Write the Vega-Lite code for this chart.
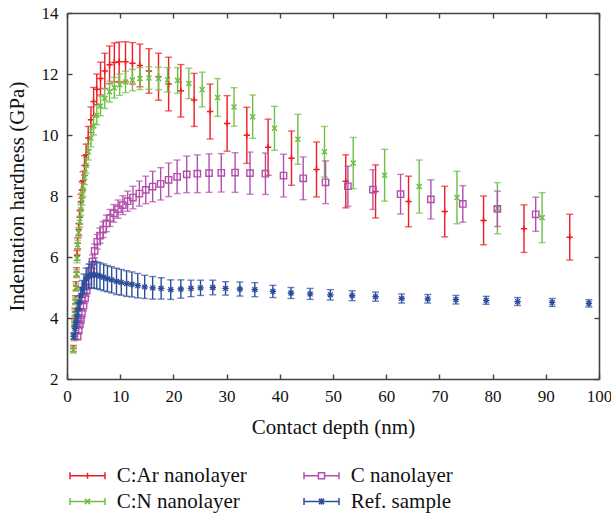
{
  "$schema": "https://vega.github.io/schema/vega-lite/v6.json",
  "autosize": {"type": "none"},
  "width": 532,
  "height": 366,
  "padding": {"left": 67, "top": 13, "right": 12, "bottom": 136},
  "background": "white",
  "config": {
    "view": {"stroke": null},
    "axis": {
      "grid": false,
      "domainColor": "#444444",
      "domainWidth": 1.6,
      "tickColor": "#444444",
      "tickWidth": 1.4,
      "tickSize": -5,
      "labelFlush": false,
      "labelFont": "Liberation Serif",
      "labelFontSize": 17,
      "labelColor": "#111111",
      "titleFont": "Liberation Serif",
      "titleFontSize": 21,
      "titleFontWeight": "normal",
      "titleColor": "#111111"
    }
  },
  "datasets": {
    "pts": [
      {"s": "C:Ar nanolayer", "d": 1.2, "h": 3.0, "e": 0.1},
      {"s": "C:Ar nanolayer", "d": 1.3, "h": 3.4, "e": 0.1},
      {"s": "C:Ar nanolayer", "d": 1.4, "h": 3.85, "e": 0.12},
      {"s": "C:Ar nanolayer", "d": 1.5, "h": 4.2, "e": 0.12},
      {"s": "C:Ar nanolayer", "d": 1.6, "h": 4.6, "e": 0.13},
      {"s": "C:Ar nanolayer", "d": 1.7, "h": 5.05, "e": 0.14},
      {"s": "C:Ar nanolayer", "d": 1.8, "h": 5.5, "e": 0.15},
      {"s": "C:Ar nanolayer", "d": 1.9, "h": 6.05, "e": 0.16},
      {"s": "C:Ar nanolayer", "d": 2.0, "h": 6.45, "e": 0.18},
      {"s": "C:Ar nanolayer", "d": 2.2, "h": 6.9, "e": 0.2},
      {"s": "C:Ar nanolayer", "d": 2.4, "h": 7.3, "e": 0.22},
      {"s": "C:Ar nanolayer", "d": 2.6, "h": 7.8, "e": 0.25},
      {"s": "C:Ar nanolayer", "d": 2.8, "h": 8.2, "e": 0.27},
      {"s": "C:Ar nanolayer", "d": 3.0, "h": 8.5, "e": 0.3},
      {"s": "C:Ar nanolayer", "d": 3.3, "h": 9.0, "e": 0.32},
      {"s": "C:Ar nanolayer", "d": 3.6, "h": 9.35, "e": 0.35},
      {"s": "C:Ar nanolayer", "d": 4.0, "h": 9.9, "e": 0.38},
      {"s": "C:Ar nanolayer", "d": 4.5, "h": 10.5, "e": 0.42},
      {"s": "C:Ar nanolayer", "d": 5.0, "h": 11.1, "e": 0.46},
      {"s": "C:Ar nanolayer", "d": 5.6, "h": 11.5, "e": 0.5},
      {"s": "C:Ar nanolayer", "d": 6.3, "h": 11.85, "e": 0.54},
      {"s": "C:Ar nanolayer", "d": 7.1, "h": 12.1, "e": 0.58},
      {"s": "C:Ar nanolayer", "d": 8.0, "h": 12.3, "e": 0.62},
      {"s": "C:Ar nanolayer", "d": 8.9, "h": 12.38, "e": 0.64},
      {"s": "C:Ar nanolayer", "d": 9.8, "h": 12.4, "e": 0.65},
      {"s": "C:Ar nanolayer", "d": 11.0, "h": 12.4, "e": 0.66},
      {"s": "C:Ar nanolayer", "d": 12.3, "h": 12.35, "e": 0.68},
      {"s": "C:Ar nanolayer", "d": 13.7, "h": 12.28, "e": 0.7},
      {"s": "C:Ar nanolayer", "d": 15.4, "h": 12.1, "e": 0.73},
      {"s": "C:Ar nanolayer", "d": 17.2, "h": 11.91, "e": 0.77},
      {"s": "C:Ar nanolayer", "d": 19.1, "h": 11.67, "e": 0.88},
      {"s": "C:Ar nanolayer", "d": 21.4, "h": 11.45, "e": 0.86},
      {"s": "C:Ar nanolayer", "d": 23.9, "h": 11.15, "e": 0.87},
      {"s": "C:Ar nanolayer", "d": 26.9, "h": 10.77, "e": 0.9},
      {"s": "C:Ar nanolayer", "d": 30.1, "h": 10.38, "e": 0.91},
      {"s": "C:Ar nanolayer", "d": 33.8, "h": 9.99, "e": 0.92},
      {"s": "C:Ar nanolayer", "d": 37.8, "h": 9.6, "e": 0.92},
      {"s": "C:Ar nanolayer", "d": 42.2, "h": 9.24, "e": 0.89},
      {"s": "C:Ar nanolayer", "d": 46.9, "h": 8.87, "e": 0.9},
      {"s": "C:Ar nanolayer", "d": 52.4, "h": 8.48, "e": 0.87},
      {"s": "C:Ar nanolayer", "d": 58.0, "h": 8.15, "e": 0.87},
      {"s": "C:Ar nanolayer", "d": 64.2, "h": 7.82, "e": 0.83},
      {"s": "C:Ar nanolayer", "d": 71.0, "h": 7.49, "e": 0.83},
      {"s": "C:Ar nanolayer", "d": 78.3, "h": 7.2, "e": 0.8},
      {"s": "C:Ar nanolayer", "d": 85.9, "h": 6.93, "e": 0.78},
      {"s": "C:Ar nanolayer", "d": 94.5, "h": 6.65, "e": 0.75},

      {"s": "C:N nanolayer", "d": 1.2, "h": 2.95, "e": 0.1},
      {"s": "C:N nanolayer", "d": 1.3, "h": 3.35, "e": 0.1},
      {"s": "C:N nanolayer", "d": 1.4, "h": 3.8, "e": 0.11},
      {"s": "C:N nanolayer", "d": 1.5, "h": 4.15, "e": 0.11},
      {"s": "C:N nanolayer", "d": 1.6, "h": 4.55, "e": 0.12},
      {"s": "C:N nanolayer", "d": 1.7, "h": 5.0, "e": 0.12},
      {"s": "C:N nanolayer", "d": 1.8, "h": 5.45, "e": 0.13},
      {"s": "C:N nanolayer", "d": 1.9, "h": 5.95, "e": 0.14},
      {"s": "C:N nanolayer", "d": 2.0, "h": 6.4, "e": 0.15},
      {"s": "C:N nanolayer", "d": 2.2, "h": 6.8, "e": 0.16},
      {"s": "C:N nanolayer", "d": 2.4, "h": 7.15, "e": 0.17},
      {"s": "C:N nanolayer", "d": 2.6, "h": 7.55, "e": 0.18},
      {"s": "C:N nanolayer", "d": 2.8, "h": 7.9, "e": 0.2},
      {"s": "C:N nanolayer", "d": 3.0, "h": 8.2, "e": 0.21},
      {"s": "C:N nanolayer", "d": 3.3, "h": 8.6, "e": 0.23},
      {"s": "C:N nanolayer", "d": 3.6, "h": 9.0, "e": 0.25},
      {"s": "C:N nanolayer", "d": 4.0, "h": 9.45, "e": 0.27},
      {"s": "C:N nanolayer", "d": 4.5, "h": 9.9, "e": 0.29},
      {"s": "C:N nanolayer", "d": 5.0, "h": 10.3, "e": 0.3},
      {"s": "C:N nanolayer", "d": 5.6, "h": 10.65, "e": 0.31},
      {"s": "C:N nanolayer", "d": 6.3, "h": 10.95, "e": 0.32},
      {"s": "C:N nanolayer", "d": 7.1, "h": 11.2, "e": 0.33},
      {"s": "C:N nanolayer", "d": 8.0, "h": 11.42, "e": 0.34},
      {"s": "C:N nanolayer", "d": 8.9, "h": 11.55, "e": 0.34},
      {"s": "C:N nanolayer", "d": 9.9, "h": 11.65, "e": 0.35},
      {"s": "C:N nanolayer", "d": 11.0, "h": 11.74, "e": 0.35},
      {"s": "C:N nanolayer", "d": 12.3, "h": 11.8, "e": 0.35},
      {"s": "C:N nanolayer", "d": 13.7, "h": 11.85, "e": 0.36},
      {"s": "C:N nanolayer", "d": 15.4, "h": 11.87, "e": 0.37},
      {"s": "C:N nanolayer", "d": 17.2, "h": 11.85, "e": 0.37},
      {"s": "C:N nanolayer", "d": 18.9, "h": 11.81, "e": 0.4},
      {"s": "C:N nanolayer", "d": 20.8, "h": 11.79, "e": 0.42},
      {"s": "C:N nanolayer", "d": 22.9, "h": 11.69, "e": 0.5},
      {"s": "C:N nanolayer", "d": 25.4, "h": 11.49, "e": 0.57},
      {"s": "C:N nanolayer", "d": 28.3, "h": 11.23, "e": 0.62},
      {"s": "C:N nanolayer", "d": 31.4, "h": 10.92, "e": 0.63},
      {"s": "C:N nanolayer", "d": 34.9, "h": 10.6, "e": 0.71},
      {"s": "C:N nanolayer", "d": 39.0, "h": 10.22, "e": 0.72},
      {"s": "C:N nanolayer", "d": 43.4, "h": 9.86, "e": 0.82},
      {"s": "C:N nanolayer", "d": 48.4, "h": 9.45, "e": 0.83},
      {"s": "C:N nanolayer", "d": 53.8, "h": 9.08, "e": 0.84},
      {"s": "C:N nanolayer", "d": 59.7, "h": 8.68, "e": 0.85},
      {"s": "C:N nanolayer", "d": 66.2, "h": 8.31, "e": 0.87},
      {"s": "C:N nanolayer", "d": 73.3, "h": 7.95, "e": 0.86},
      {"s": "C:N nanolayer", "d": 80.9, "h": 7.6, "e": 0.84},
      {"s": "C:N nanolayer", "d": 89.3, "h": 7.29, "e": 0.82},

      {"s": "C nanolayer", "d": 2.0, "h": 3.4, "e": 0.12},
      {"s": "C nanolayer", "d": 2.2, "h": 3.6, "e": 0.13},
      {"s": "C nanolayer", "d": 2.4, "h": 3.8, "e": 0.14},
      {"s": "C nanolayer", "d": 2.6, "h": 3.95, "e": 0.15},
      {"s": "C nanolayer", "d": 2.8, "h": 4.15, "e": 0.16},
      {"s": "C nanolayer", "d": 3.1, "h": 4.4, "e": 0.17},
      {"s": "C nanolayer", "d": 3.4, "h": 4.65, "e": 0.18},
      {"s": "C nanolayer", "d": 3.7, "h": 4.9, "e": 0.19},
      {"s": "C nanolayer", "d": 4.0, "h": 5.2, "e": 0.2},
      {"s": "C nanolayer", "d": 4.4, "h": 5.55, "e": 0.21},
      {"s": "C nanolayer", "d": 4.8, "h": 5.85, "e": 0.22},
      {"s": "C nanolayer", "d": 5.2, "h": 6.2, "e": 0.23},
      {"s": "C nanolayer", "d": 5.7, "h": 6.5, "e": 0.24},
      {"s": "C nanolayer", "d": 6.2, "h": 6.7, "e": 0.25},
      {"s": "C nanolayer", "d": 6.8, "h": 6.9, "e": 0.26},
      {"s": "C nanolayer", "d": 7.4, "h": 7.1, "e": 0.27},
      {"s": "C nanolayer", "d": 8.1, "h": 7.28, "e": 0.28},
      {"s": "C nanolayer", "d": 8.8, "h": 7.43, "e": 0.29},
      {"s": "C nanolayer", "d": 9.6, "h": 7.57, "e": 0.3},
      {"s": "C nanolayer", "d": 10.5, "h": 7.7, "e": 0.31},
      {"s": "C nanolayer", "d": 11.4, "h": 7.83, "e": 0.33},
      {"s": "C nanolayer", "d": 12.4, "h": 7.95, "e": 0.37},
      {"s": "C nanolayer", "d": 13.6, "h": 8.08, "e": 0.41},
      {"s": "C nanolayer", "d": 14.8, "h": 8.2, "e": 0.45},
      {"s": "C nanolayer", "d": 16.1, "h": 8.31, "e": 0.5},
      {"s": "C nanolayer", "d": 17.6, "h": 8.4, "e": 0.53},
      {"s": "C nanolayer", "d": 19.1, "h": 8.53, "e": 0.55},
      {"s": "C nanolayer", "d": 20.7, "h": 8.63, "e": 0.55},
      {"s": "C nanolayer", "d": 22.5, "h": 8.71, "e": 0.6},
      {"s": "C nanolayer", "d": 24.5, "h": 8.73, "e": 0.62},
      {"s": "C nanolayer", "d": 26.7, "h": 8.75, "e": 0.63},
      {"s": "C nanolayer", "d": 29.0, "h": 8.76, "e": 0.63},
      {"s": "C nanolayer", "d": 31.6, "h": 8.77, "e": 0.65},
      {"s": "C nanolayer", "d": 34.4, "h": 8.75, "e": 0.69},
      {"s": "C nanolayer", "d": 37.3, "h": 8.73, "e": 0.68},
      {"s": "C nanolayer", "d": 40.7, "h": 8.67, "e": 0.7},
      {"s": "C nanolayer", "d": 44.4, "h": 8.58, "e": 0.7},
      {"s": "C nanolayer", "d": 48.6, "h": 8.45, "e": 0.7},
      {"s": "C nanolayer", "d": 52.8, "h": 8.32, "e": 0.66},
      {"s": "C nanolayer", "d": 57.5, "h": 8.21, "e": 0.65},
      {"s": "C nanolayer", "d": 62.7, "h": 8.06, "e": 0.65},
      {"s": "C nanolayer", "d": 68.4, "h": 7.89, "e": 0.64},
      {"s": "C nanolayer", "d": 74.4, "h": 7.74, "e": 0.6},
      {"s": "C nanolayer", "d": 80.9, "h": 7.58, "e": 0.58},
      {"s": "C nanolayer", "d": 88.1, "h": 7.4, "e": 0.56},

      {"s": "Ref. sample", "d": 1.3, "h": 3.4, "e": 0.1},
      {"s": "Ref. sample", "d": 1.5, "h": 3.65, "e": 0.12},
      {"s": "Ref. sample", "d": 1.7, "h": 3.85, "e": 0.14},
      {"s": "Ref. sample", "d": 1.9, "h": 4.05, "e": 0.16},
      {"s": "Ref. sample", "d": 2.1, "h": 4.3, "e": 0.19},
      {"s": "Ref. sample", "d": 2.3, "h": 4.5, "e": 0.22},
      {"s": "Ref. sample", "d": 2.6, "h": 4.75, "e": 0.25},
      {"s": "Ref. sample", "d": 2.9, "h": 4.95, "e": 0.28},
      {"s": "Ref. sample", "d": 3.2, "h": 5.12, "e": 0.32},
      {"s": "Ref. sample", "d": 3.6, "h": 5.28, "e": 0.36},
      {"s": "Ref. sample", "d": 4.1, "h": 5.37, "e": 0.4},
      {"s": "Ref. sample", "d": 4.6, "h": 5.41, "e": 0.43},
      {"s": "Ref. sample", "d": 5.1, "h": 5.42, "e": 0.44},
      {"s": "Ref. sample", "d": 5.6, "h": 5.4, "e": 0.44},
      {"s": "Ref. sample", "d": 6.2, "h": 5.37, "e": 0.44},
      {"s": "Ref. sample", "d": 6.9, "h": 5.33, "e": 0.44},
      {"s": "Ref. sample", "d": 7.6, "h": 5.29, "e": 0.43},
      {"s": "Ref. sample", "d": 8.4, "h": 5.25, "e": 0.43},
      {"s": "Ref. sample", "d": 9.3, "h": 5.2, "e": 0.43},
      {"s": "Ref. sample", "d": 10.2, "h": 5.17, "e": 0.42},
      {"s": "Ref. sample", "d": 11.2, "h": 5.13, "e": 0.42},
      {"s": "Ref. sample", "d": 12.2, "h": 5.1, "e": 0.41},
      {"s": "Ref. sample", "d": 13.3, "h": 5.06, "e": 0.4},
      {"s": "Ref. sample", "d": 14.6, "h": 5.02, "e": 0.38},
      {"s": "Ref. sample", "d": 16.1, "h": 4.99, "e": 0.37},
      {"s": "Ref. sample", "d": 17.7, "h": 4.97, "e": 0.35},
      {"s": "Ref. sample", "d": 19.5, "h": 4.93, "e": 0.32},
      {"s": "Ref. sample", "d": 21.4, "h": 4.95, "e": 0.3},
      {"s": "Ref. sample", "d": 23.3, "h": 4.97, "e": 0.27},
      {"s": "Ref. sample", "d": 25.1, "h": 4.99, "e": 0.25},
      {"s": "Ref. sample", "d": 27.4, "h": 5.0, "e": 0.24},
      {"s": "Ref. sample", "d": 29.8, "h": 4.97, "e": 0.22},
      {"s": "Ref. sample", "d": 32.5, "h": 4.95, "e": 0.23},
      {"s": "Ref. sample", "d": 35.3, "h": 4.93, "e": 0.23},
      {"s": "Ref. sample", "d": 38.7, "h": 4.87, "e": 0.2},
      {"s": "Ref. sample", "d": 42.1, "h": 4.82, "e": 0.18},
      {"s": "Ref. sample", "d": 45.7, "h": 4.79, "e": 0.18},
      {"s": "Ref. sample", "d": 49.5, "h": 4.76, "e": 0.17},
      {"s": "Ref. sample", "d": 53.6, "h": 4.73, "e": 0.16},
      {"s": "Ref. sample", "d": 58.0, "h": 4.7, "e": 0.15},
      {"s": "Ref. sample", "d": 62.9, "h": 4.64, "e": 0.15},
      {"s": "Ref. sample", "d": 67.8, "h": 4.63, "e": 0.14},
      {"s": "Ref. sample", "d": 73.1, "h": 4.6, "e": 0.14},
      {"s": "Ref. sample", "d": 78.8, "h": 4.58, "e": 0.13},
      {"s": "Ref. sample", "d": 84.7, "h": 4.54, "e": 0.13},
      {"s": "Ref. sample", "d": 91.2, "h": 4.51, "e": 0.13},
      {"s": "Ref. sample", "d": 98.1, "h": 4.48, "e": 0.12}
    ]
  },
  "data": {"name": "pts"},
  "resolve": {"axis": {"x": "independent", "y": "independent"}},
  "layer": [
    {
      "transform": [{"filter": "datum.s === 'C:Ar nanolayer'"}],
      "mark": {"type": "errorbar", "ticks": {"size": 7}, "thickness": 1.4, "color": "#ee1c24"},
      "encoding": {
        "x": {"field": "d", "type": "quantitative", "scale": {"domain": [0, 100], "nice": false, "padding": 0},
              "axis": {"orient": "bottom", "values": [0,10,20,30,40,50,60,70,80,90,100], "title": "Contact depth (nm)", "labelPadding": 14, "titlePadding": 12}},
        "y": {"field": "h", "type": "quantitative", "scale": {"domain": [2, 14], "nice": false, "zero": false, "padding": 0},
              "axis": {"orient": "left", "values": [2,4,6,8,10,12,14], "title": "Indentation hardness (GPa)", "labelPadding": 14, "titlePadding": 14}},
        "yError": {"field": "e"}
      }
    },
    {
      "transform": [{"filter": "datum.s === 'C:Ar nanolayer'"}],
      "mark": {"type": "point", "shape": "M-1,0L1,0M0,-1L0,1", "filled": false, "stroke": "#ee1c24", "strokeWidth": 1.5, "size": 40, "opacity": 1},
      "encoding": {
        "x": {"field": "d", "type": "quantitative", "axis": {"orient": "top", "values": [0,10,20,30,40,50,60,70,80,90,100], "labels": false, "title": null}},
        "y": {"field": "h", "type": "quantitative", "axis": {"orient": "right", "values": [2,4,6,8,10,12,14], "labels": false, "title": null}}
      }
    },
    {
      "transform": [{"filter": "datum.s === 'C:N nanolayer'"}],
      "mark": {"type": "errorbar", "ticks": {"size": 7}, "thickness": 1.4, "color": "#6cbf44"},
      "encoding": {
        "x": {"field": "d", "type": "quantitative", "axis": null},
        "y": {"field": "h", "type": "quantitative", "axis": null},
        "yError": {"field": "e"}
      }
    },
    {
      "transform": [{"filter": "datum.s === 'C:N nanolayer'"}],
      "mark": {"type": "point", "shape": "M-1,-1L1,1M-1,1L1,-1", "filled": false, "stroke": "#6cbf44", "strokeWidth": 1.5, "size": 25, "opacity": 1},
      "encoding": {
        "x": {"field": "d", "type": "quantitative", "axis": null},
        "y": {"field": "h", "type": "quantitative", "axis": null}
      }
    },
    {
      "transform": [{"filter": "datum.s === 'C nanolayer'"}],
      "mark": {"type": "errorbar", "ticks": {"size": 7}, "thickness": 1.4, "color": "#b14fab"},
      "encoding": {
        "x": {"field": "d", "type": "quantitative", "axis": null},
        "y": {"field": "h", "type": "quantitative", "axis": null},
        "yError": {"field": "e"}
      }
    },
    {
      "transform": [{"filter": "datum.s === 'C nanolayer'"}],
      "mark": {"type": "point", "shape": "square", "filled": false, "stroke": "#b14fab", "strokeWidth": 1.4, "size": 40, "opacity": 1},
      "encoding": {
        "x": {"field": "d", "type": "quantitative", "axis": null},
        "y": {"field": "h", "type": "quantitative", "axis": null}
      }
    },
    {
      "transform": [{"filter": "datum.s === 'Ref. sample'"}],
      "mark": {"type": "errorbar", "ticks": {"size": 7}, "thickness": 1.4, "color": "#2c4d9c"},
      "encoding": {
        "x": {"field": "d", "type": "quantitative", "axis": null},
        "y": {"field": "h", "type": "quantitative", "axis": null},
        "yError": {"field": "e"}
      }
    },
    {
      "transform": [{"filter": "datum.s === 'Ref. sample'"}],
      "mark": {"type": "point", "shape": "M-1,0L1,0M0,-1L0,1M-0.75,-0.75L0.75,0.75M-0.75,0.75L0.75,-0.75", "filled": false, "stroke": "#2c4d9c", "strokeWidth": 1.3, "size": 42, "opacity": 1},
      "encoding": {
        "x": {"field": "d", "type": "quantitative", "axis": null},
        "y": {"field": "h", "type": "quantitative", "axis": null}
      }
    },
    {
      "mark": {"type": "point", "filled": false, "opacity": 0},
      "encoding": {
        "x": {"field": "d", "type": "quantitative", "axis": null},
        "y": {"field": "h", "type": "quantitative", "axis": null},
        "color": {"field": "s", "type": "nominal",
                  "scale": {"domain": ["C:Ar nanolayer", "C:N nanolayer", "C nanolayer", "Ref. sample"],
                            "range": ["#ee1c24", "#6cbf44", "#b14fab", "#2c4d9c"]},
                  "legend": {
                    "orient": "none", "legendX": 10, "legendY": 452, "columns": 2,
                    "columnPadding": 54, "rowPadding": 4, "symbolSize": 306, "symbolStrokeWidth": 1.5,
                    "symbolOpacity": 1, "symbolFillColor": "transparent",
                    "labelOffset": 18.75, "labelFont": "Liberation Serif", "labelFontSize": 21,
                    "labelColor": "#111111", "labelLimit": 300, "title": null
                  }},
        "shape": {"field": "s", "type": "nominal",
                  "scale": {"domain": ["C:Ar nanolayer", "C:N nanolayer", "C nanolayer", "Ref. sample"],
                            "range": [
                              "M-2,0L2,0M-2,-0.4L-2,0.4M2,-0.4L2,0.4M0,-0.35L0,0.35",
                              "M-2,0L2,0M-2,-0.4L-2,0.4M2,-0.4L2,0.4M-0.3,-0.3L0.3,0.3M-0.3,0.3L0.3,-0.3",
                              "M-2,0L-0.35,0M0.35,0L2,0M-2,-0.4L-2,0.4M2,-0.4L2,0.4M-0.35,-0.35L0.35,-0.35L0.35,0.35L-0.35,0.35Z",
                              "M-2,0L2,0M-2,-0.4L-2,0.4M2,-0.4L2,0.4M-0.3,-0.3L0.3,0.3M-0.3,0.3L0.3,-0.3M0,-0.38L0,0.38"
                            ]},
                  "legend": {
                    "orient": "none", "legendX": 10, "legendY": 452, "columns": 2,
                    "columnPadding": 54, "rowPadding": 4, "symbolSize": 306, "symbolStrokeWidth": 1.5,
                    "symbolOpacity": 1, "symbolFillColor": "transparent",
                    "labelOffset": 18.75, "labelFont": "Liberation Serif", "labelFontSize": 21,
                    "labelColor": "#111111", "labelLimit": 300, "title": null
                  }}
      }
    }
  ]
}
